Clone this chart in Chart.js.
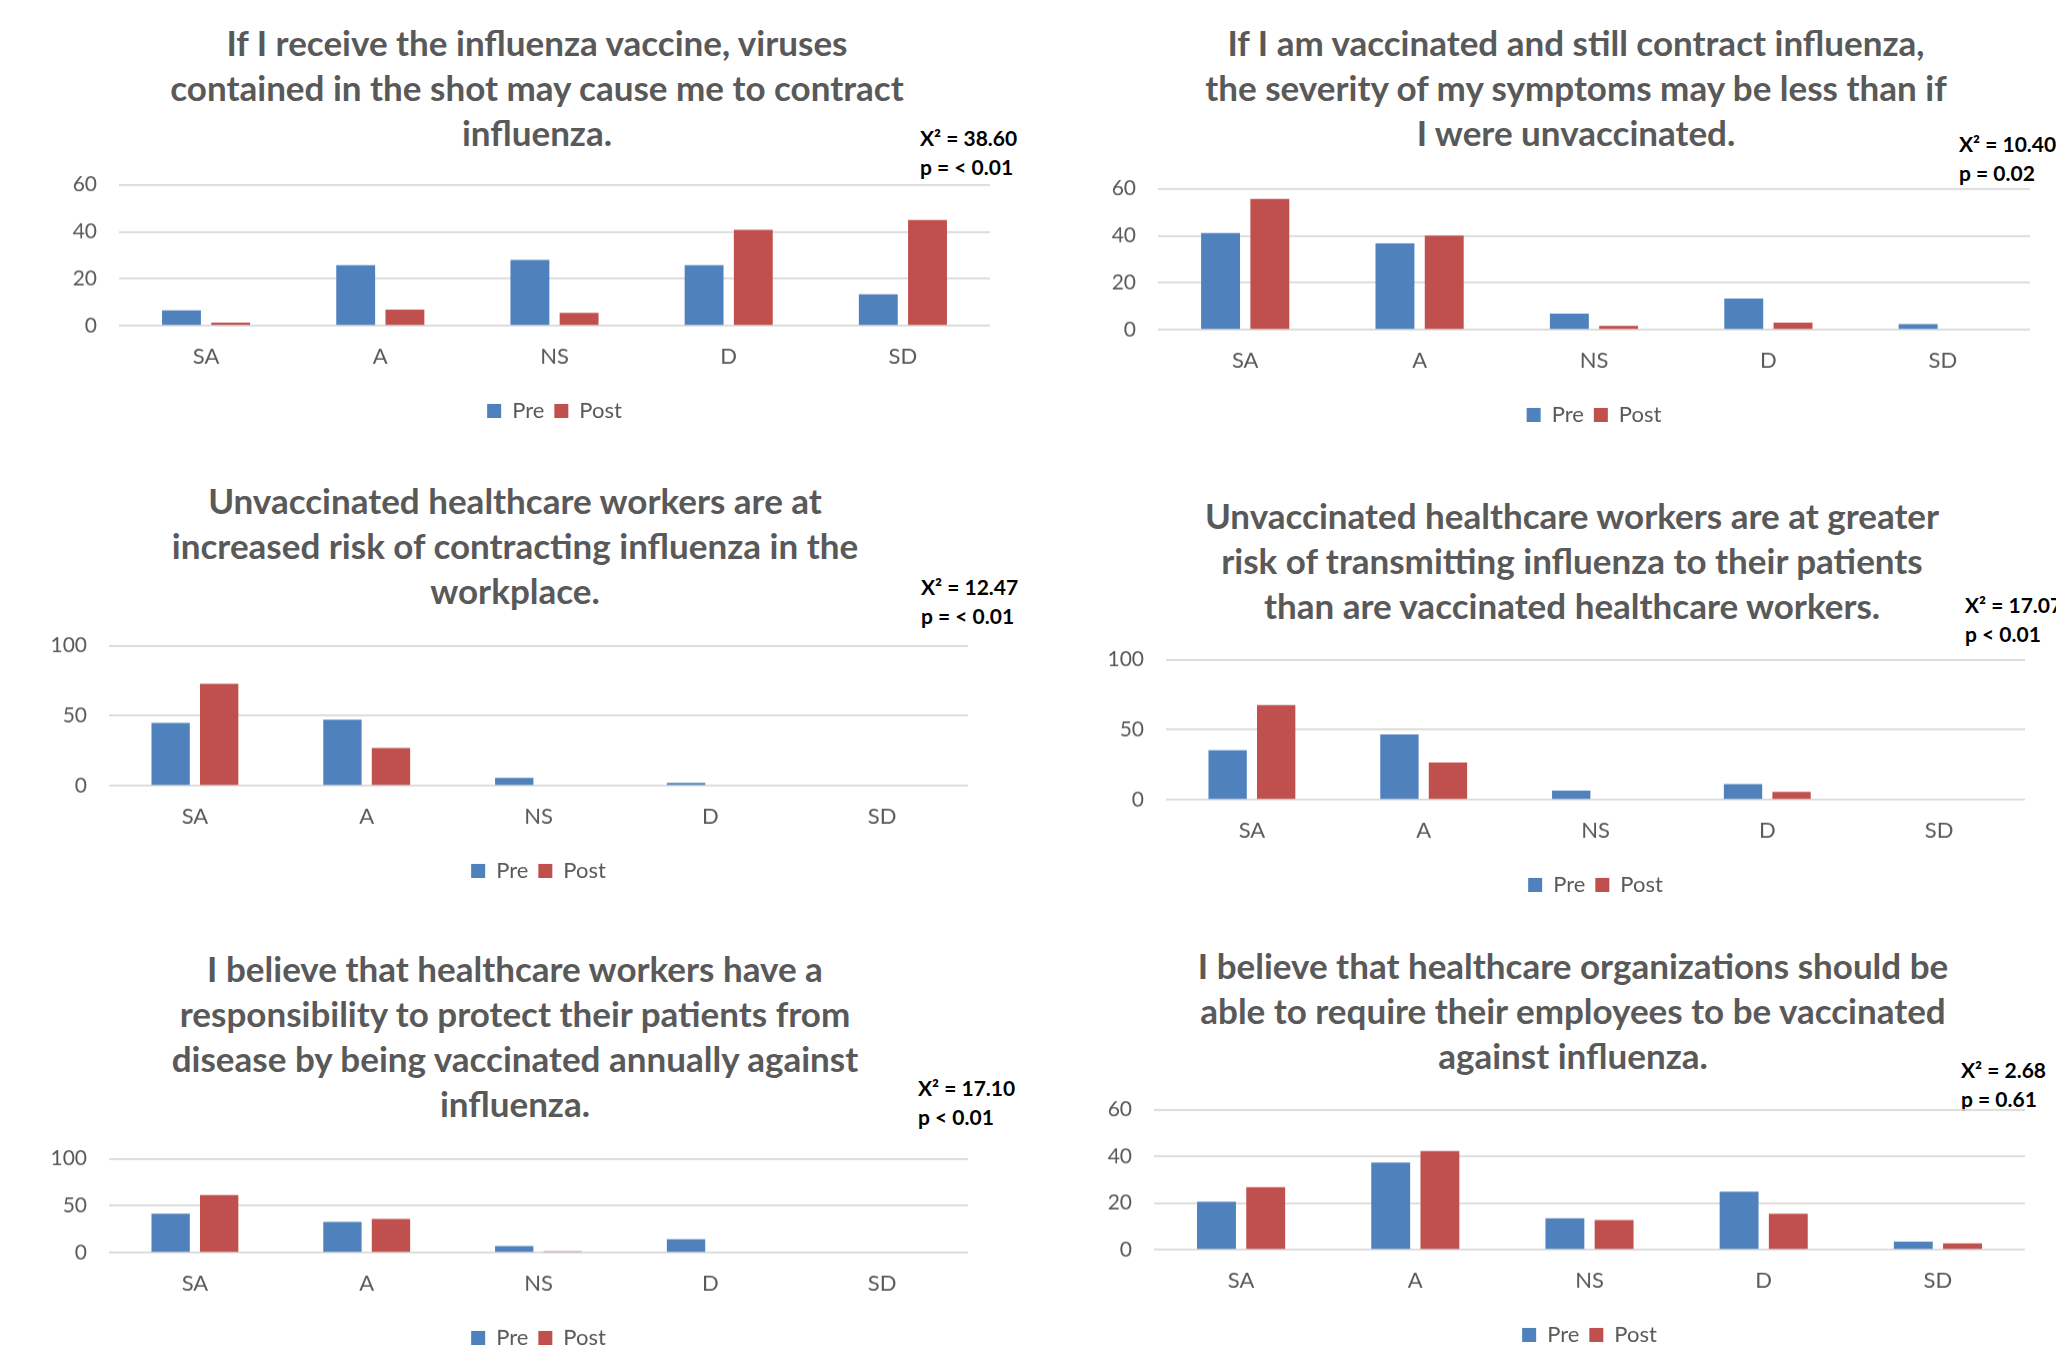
<!DOCTYPE html>
<html>
<head>
<meta charset="utf-8">
<script src="https://cdn.jsdelivr.net/npm/chart.js@4.4.1/dist/chart.umd.min.js"></script>
<style>
html, body { margin: 0; padding: 0; background: #fff; }
body { width: 2056px; height: 1357px; overflow: hidden; position: relative; font-family: Lato, "Open Sans", sans-serif; }
.title { position: absolute; width: 1000px; text-align: center; color: #595959; font-weight: 700; font-size: 35px; line-height: 45px; white-space: nowrap; }
.stats { position: absolute; color: #000; font-weight: 700; font-size: 21px; line-height: 29px; white-space: nowrap; }
canvas { position: absolute; }
</style>
</head>
<body>
<script>
// categories and series
const categories = ['SA', 'A', 'NS', 'D', 'SD'];
const seriesNames = ['Pre', 'Post'];

// values
const pre1 = [6.5, 25.7, 28, 25.7, 13.4];
const post1 = [1.3, 6.8, 5.5, 40.8, 45];
const pre2 = [41.1, 36.7, 6.8, 13.3, 2.4];
const post2 = [55.7, 40.1, 1.6, 3, 0];
const pre3 = [44.8, 47.1, 5.5, 1.9, 0];
const post3 = [72.9, 26.9, 0, 0, 0];
const pre4 = [35.4, 46.6, 6.4, 11.2, 0];
const post4 = [67.7, 26.6, 0, 5.5, 0];
const pre5 = [41.5, 32.7, 7, 14.1, 0];
const post5 = [61.3, 35.9, 1.4, 0, 0];
const pre6 = [20.5, 37.3, 13.4, 24.9, 3.4];
const post6 = [26.8, 42.3, 12.7, 15.4, 2.7];

// y tick labels
const ticks60 = [0, 20, 40, 60];
const ticks100 = [0, 50, 100];

const titles = [
  ['If I receive the influenza vaccine, viruses', 'contained in the shot may cause me to contract', 'influenza.'],
  ['If I am vaccinated and still contract influenza,', 'the severity of my symptoms may be less than if', 'I were unvaccinated.'],
  ['Unvaccinated healthcare workers are at', 'increased risk of contracting influenza in the', 'workplace.'],
  ['Unvaccinated healthcare workers are at greater', 'risk of transmitting influenza to their patients', 'than are vaccinated healthcare workers.'],
  ['I believe that healthcare workers have a', 'responsibility to protect their patients from', 'disease by being vaccinated annually against', 'influenza.'],
  ['I believe that healthcare organizations should be', 'able to require their employees to be vaccinated', 'against influenza.']
];
const stats = [
  ['X\u00B2 = 38.60', 'p = < 0.01'],
  ['X\u00B2 = 10.40', 'p = 0.02'],
  ['X\u00B2 = 12.47', 'p = < 0.01'],
  ['X\u00B2 = 17.07', 'p < 0.01'],
  ['X\u00B2 = 17.10', 'p < 0.01'],
  ['X\u00B2 = 2.68', 'p = 0.61']
];

const preSets = [pre1, pre2, pre3, pre4, pre5, pre6];
const postSets = [post1, post2, post3, post4, post5, post6];
const tickSets = [ticks60, ticks60, ticks100, ticks100, ticks100, ticks60];

// where each panel sits on the page (plot box, title centre, stats corner)
const panels = [
  { l: 119, r: 990, t: 185, b: 326, tx: 537, ty: 42, sx: 920, sy: 137 },
  { l: 1158, r: 2030, t: 189, b: 330, tx: 1576, ty: 42, sx: 1959, sy: 143 },
  { l: 109, r: 968, t: 646, b: 786, tx: 515, ty: 500, sx: 921, sy: 586 },
  { l: 1166, r: 2025, t: 660, b: 800, tx: 1572, ty: 515, sx: 1965, sy: 604 },
  { l: 109, r: 968, t: 1159, b: 1253, tx: 515, ty: 968, sx: 918, sy: 1087 },
  { l: 1154, r: 2025, t: 1110, b: 1250, tx: 1573, ty: 965, sx: 1961, sy: 1069 }
];

const BLUE = '#4F81BD';
const RED = '#C0504D';
const GREY = '#595959';
const YW = 80, XH = 64;

function makeConfig(i) {
  const tk = tickSets[i];
  return {
    type: 'bar',
    data: {
      labels: categories,
      datasets: [
        { label: seriesNames[0], data: preSets[i], backgroundColor: BLUE, borderWidth: 0 },
        { label: seriesNames[1], data: postSets[i], backgroundColor: RED, borderWidth: 0 }
      ]
    },
    options: {
      responsive: false,
      animation: false,
      devicePixelRatio: 1,
      datasets: { bar: { categoryPercentage: 0.565, barPercentage: 0.79 } },
      layout: { padding: { top: 12, right: 4, left: 0, bottom: 0 } },
      scales: {
        x: {
          grid: { display: false, drawTicks: false },
          border: { display: false },
          ticks: { color: GREY, font: { family: 'Lato', size: 22 }, padding: 18 },
          afterFit: sc => { sc.height = XH; }
        },
        y: {
          min: 0,
          max: tk[tk.length - 1],
          grid: { color: '#D9D9D9', lineWidth: 1.7, drawTicks: false },
          border: { display: false },
          ticks: { color: GREY, font: { family: 'Lato', size: 21 }, padding: 22 },
          afterBuildTicks: sc => { sc.ticks = tk.map(v => ({ value: v })); },
          afterFit: sc => { sc.width = YW; }
        }
      },
      plugins: {
        legend: {
          position: 'bottom',
          fullSize: false,
          labels: { color: GREY, font: { family: 'Lato', size: 22 }, boxWidth: 14, boxHeight: 14, padding: 10 }
        },
        tooltip: { enabled: false }
      }
    }
  };
}

function place(c, left, top, w, h) {
  c.width = w; c.height = h;
  c.style.left = left + 'px'; c.style.top = top + 'px';
  c.style.width = w + 'px'; c.style.height = h + 'px';
}

panels.forEach((p, i) => {
  const t = document.createElement('div');
  t.className = 'title';
  t.style.left = (p.tx - 500) + 'px';
  t.style.top = (p.ty - 22.5) + 'px';
  t.innerHTML = titles[i].join('<br>');
  document.body.appendChild(t);

  const s = document.createElement('div');
  s.className = 'stats';
  s.style.left = p.sx + 'px';
  s.style.top = (p.sy - 14.5) + 'px';
  s.innerHTML = stats[i].join('<br>');
  document.body.appendChild(s);

  // first pass: find how much room the axes and legend take
  const c = document.createElement('canvas');
  document.body.appendChild(c);
  const w0 = p.r - p.l + 84, h0 = p.b - p.t + 120;
  place(c, 0, 0, w0, h0);
  let chart = new Chart(c.getContext('2d'), makeConfig(i));
  const a = chart.chartArea;
  const offL = a.left, offR = w0 - a.right, offT = a.top, offB = h0 - a.bottom;
  chart.destroy();

  // second pass: size the canvas so the plot box lands where it should
  place(c, p.l - offL, p.t - offT, offL + (p.r - p.l) + offR, offT + (p.b - p.t) + offB);
  chart = new Chart(c.getContext('2d'), makeConfig(i));
});
</script>
</body>
</html>
